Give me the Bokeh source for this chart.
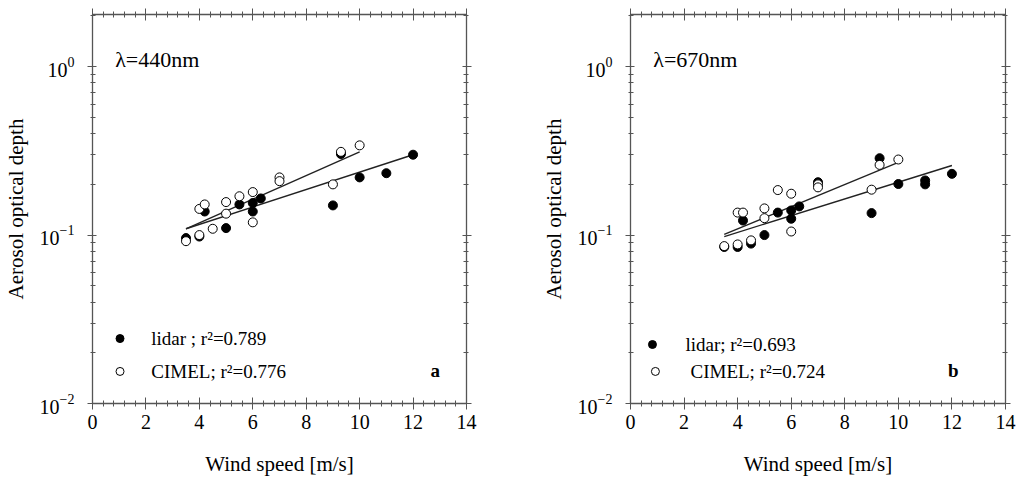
from bokeh.core.properties import value
from bokeh.embed import file_html
from bokeh.layouts import row
from bokeh.models import (ColumnDataSource, Range1d, LinearAxis, LogAxis,
                          SingleIntervalTicker, FixedTicker, LogTickFormatter,
                          BasicTickFormatter)
from bokeh.plotting import figure
from bokeh.resources import INLINE

SERIF = "Liberation Serif"
AXIS_COLOR = "#555555"

# panel a : lambda = 440 nm
a_lidar_ws = [3.5, 4.0, 4.2, 5.0, 5.5, 6.0, 6.0, 6.3, 9.0, 9.3, 10.0, 11.0, 12.0]
a_lidar_aod = [0.096, 0.098, 0.138, 0.110, 0.152, 0.155, 0.138, 0.165, 0.150, 0.303, 0.220, 0.233, 0.300]
a_cimel_ws = [3.5, 4.0, 4.0, 4.2, 4.5, 5.0, 5.0, 5.5, 6.0, 6.0, 7.0, 7.0, 9.0, 9.3, 10.0]
a_cimel_aod = [0.092, 0.100, 0.143, 0.152, 0.109, 0.157, 0.134, 0.170, 0.180, 0.119, 0.220, 0.209, 0.200, 0.312, 0.341]
a_lidar_fit_ws = [3.5, 12.0]
a_lidar_fit = [0.109, 0.300]
a_cimel_fit_ws = [3.5, 10.0]
a_cimel_fit = [0.109, 0.312]

# panel b : lambda = 670 nm
b_lidar_ws = [3.5, 4.0, 4.5, 4.2, 5.0, 5.5, 6.0, 6.0, 6.3, 7.0, 9.0, 9.3, 10.0, 11.0, 11.0, 12.0]
b_lidar_aod = [0.085, 0.085, 0.089, 0.122, 0.100, 0.136, 0.140, 0.125, 0.148, 0.206, 0.135, 0.286, 0.201, 0.211, 0.200, 0.231]
b_cimel_ws = [3.5, 4.0, 4.5, 4.0, 4.2, 5.0, 5.0, 5.5, 6.0, 6.0, 7.0, 7.0, 9.0, 9.3, 10.0]
b_cimel_aod = [0.086, 0.088, 0.093, 0.136, 0.136, 0.144, 0.126, 0.185, 0.176, 0.105, 0.200, 0.192, 0.186, 0.261, 0.281]
b_lidar_fit_ws = [3.5, 12.0]
b_lidar_fit = [0.098, 0.259]
b_cimel_fit_ws = [3.5, 10.0]
b_cimel_fit = [0.101, 0.270]

Y_MAJOR = [0.01, 0.1, 1.0]
Y_MINOR = [m * d for d in Y_MAJOR for m in range(2, 10)]


def style_axis(ax, show_labels, log=False):
    ax.axis_line_color = AXIS_COLOR
    ax.axis_line_width = 1.3
    ax.major_tick_line_color = AXIS_COLOR
    ax.minor_tick_line_color = AXIS_COLOR
    if log:
        ax.major_tick_in, ax.major_tick_out = 4, 5
        ax.minor_tick_in, ax.minor_tick_out = 3, 2
    else:
        ax.major_tick_in, ax.major_tick_out = 6, 6
        ax.minor_tick_in, ax.minor_tick_out = 3, 3
    ax.major_label_text_font = SERIF
    ax.major_label_text_color = "black"
    ax.major_label_text_font_size = "20px"
    ax.axis_label_text_font = SERIF
    ax.axis_label_text_font_style = "normal"
    ax.axis_label_text_font_size = "21px"
    ax.axis_label_text_color = "black"
    if not show_labels:
        # mirror axis: ticks only
        ax.major_label_text_color = None
        ax.major_label_text_font_size = "1px"
        ax.major_label_standoff = 0


def make_panel(frame_w, border_r, lidar_ws, lidar_aod, cimel_ws, cimel_aod,
               lidar_fit_ws, lidar_fit, cimel_fit_ws, cimel_fit,
               wl_text, legend, legend_pos, tag, tag_x):
    p = figure(frame_width=frame_w, frame_height=389, x_range=Range1d(0, 14),
               y_range=Range1d(0.01, 2.04), y_axis_type="log",
               output_backend="svg", toolbar_location=None,
               min_border_left=87, min_border_right=border_r,
               min_border_top=14, min_border_bottom=80)
    p.outline_line_color = None
    p.xgrid.grid_line_color = None
    p.ygrid.grid_line_color = None

    xt = SingleIntervalTicker(interval=2, num_minor_ticks=5)
    yt = FixedTicker(ticks=Y_MAJOR, minor_ticks=Y_MINOR)

    p.xaxis.ticker = xt
    p.xaxis.axis_label = "Wind speed [m/s]"
    p.yaxis.ticker = yt
    p.yaxis.formatter = LogTickFormatter()
    p.yaxis.axis_label = "Aerosol optical depth"
    style_axis(p.xaxis[0], True)
    style_axis(p.yaxis[0], True, log=True)
    p.xaxis.major_label_standoff = 5
    p.xaxis.axis_label_standoff = 20
    p.yaxis.axis_label_standoff = 9
    p.yaxis.major_label_standoff = 13

    top = LinearAxis(ticker=xt)
    style_axis(top, False)
    p.add_layout(top, "above")
    right = LogAxis(ticker=yt, formatter=BasicTickFormatter())
    style_axis(right, False, log=True)
    p.add_layout(right, "right")

    p.line(lidar_fit_ws, lidar_fit, line_color="#222222", line_width=1.4)
    p.line(cimel_fit_ws, cimel_fit, line_color="#222222", line_width=1.4)

    lidar = ColumnDataSource(data=dict(ws=lidar_ws, aod=lidar_aod))
    cimel = ColumnDataSource(data=dict(ws=cimel_ws, aod=cimel_aod))
    p.scatter("ws", "aod", source=lidar, size=9, fill_color="black",
              line_color="black")
    p.scatter("ws", "aod", source=cimel, size=9, fill_color="white",
              line_color="black", line_width=1)

    # legend drawn by hand like the original
    (mx1, my1, tx1), (mx2, my2, tx2) = legend_pos
    p.scatter([mx1], [my1], size=8, fill_color="black", line_color="black")
    p.scatter([mx2], [my2], size=8, fill_color="white", line_color="black")
    p.text([tx1, tx2], [my1, my2], text=legend, text_font=value(SERIF),
           text_font_size="19px", text_baseline="middle", text_align="left",
           text_color="black")

    p.text([0.85], [1.1], text=[wl_text], text_font=value(SERIF),
           text_font_size="22px", text_baseline="middle", text_align="left",
           text_color="black")
    p.text([tag_x], [0.0157], text=[tag], text_font=value(SERIF),
           text_font_size="19px", text_font_style="bold",
           text_baseline="middle", text_align="left", text_color="black")
    return p


pa = make_panel(374, 72, a_lidar_ws, a_lidar_aod, a_cimel_ws, a_cimel_aod,
                a_lidar_fit_ws, a_lidar_fit, a_cimel_fit_ws, a_cimel_fit,
                "\u03bb=440nm",
                ["lidar ; r\u00b2=0.789", "CIMEL; r\u00b2=0.776"],
                [(1.03, 0.0243, 2.2), (1.03, 0.0155, 2.2)], "a", 12.65)
pb = make_panel(375, 13, b_lidar_ws, b_lidar_aod, b_cimel_ws, b_cimel_aod,
                b_lidar_fit_ws, b_lidar_fit, b_cimel_fit_ws, b_cimel_fit,
                "\u03bb=670nm",
                ["lidar; r\u00b2=0.693", "CIMEL; r\u00b2=0.724"],
                [(0.82, 0.0224, 2.05), (0.93, 0.0155, 2.24)], "b", 11.85)

layout = row(pa, pb)
open("out.html", "w").write(file_html(layout, INLINE))
